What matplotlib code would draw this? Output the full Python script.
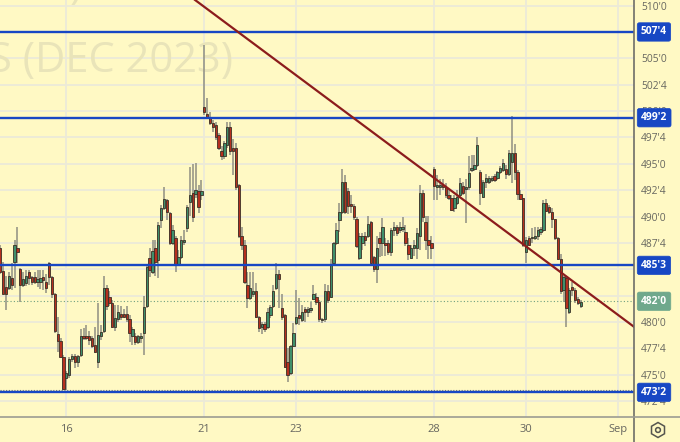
import matplotlib
matplotlib.use('Agg')
import matplotlib.pyplot as plt
from matplotlib.lines import Line2D
from matplotlib.patches import RegularPolygon, Circle

plt.rcParams['font.family'] = ['Open Sans', 'DejaVu Sans']

opens = [487.0, 484.8, 483.3, 483.2, 484.2, 485.7, 487.0, 485.0, 483.5, 483.7,
         484.7, 484.3, 484.3, 483.8, 483.8, 484.3, 483.8, 485.6, 484.3, 482.7,
         478.9, 478.2, 476.7, 474.7, 475.0, 476.5, 476.8, 476.2, 476.9, 478.7,
         478.7, 478.7, 478.5, 477.8, 476.2, 478.7, 479.2, 483.2, 482.4, 481.8,
         479.5, 480.3, 480.8, 480.8, 480.8, 480.3, 478.7, 478.7, 478.1, 478.5,
         479.0, 481.5, 486.1, 484.7, 487.0, 485.9, 489.7, 490.8, 491.6, 490.3,
         487.5, 488.0, 485.5, 486.2, 487.6, 488.9, 491.4, 492.2, 492.1, 492.4,
         492.0, 500.4, 499.7, 499.3, 498.9, 498.7, 497.7, 496.2, 495.7, 496.8,
         498.5, 496.5, 496.5, 493.0, 488.2, 487.3, 483.5, 482.3, 482.7, 482.9,
         480.5, 479.5, 479.8, 479.5, 480.7, 481.5, 483.2, 484.6, 481.3, 480.7,
         476.2, 475.2, 477.7, 479.9, 480.7, 480.2, 481.2, 481.0, 481.1, 482.2,
         482.4, 481.9, 480.2, 480.3, 482.9, 482.4, 485.6, 487.5, 489.7, 490.4,
         493.3, 492.4, 491.2, 491.0, 489.8, 486.1, 487.5, 488.2, 488.2, 489.5,
         486.2, 485.0, 488.0, 487.5, 487.5, 487.5, 486.6, 488.7, 489.0, 488.7,
         488.8, 488.5, 487.3, 486.1, 487.0, 487.0, 488.2, 492.2, 489.5, 487.8,
         487.5, 494.5, 492.8, 492.8, 493.0, 492.8, 492.0, 491.8, 490.8, 491.3,
         492.0, 492.9, 492.6, 492.8, 494.4, 494.5, 494.9, 494.2, 491.9, 493.3,
         493.3, 493.5, 493.8, 493.7, 494.2, 494.4, 494.5, 494.0, 495.2, 496.0,
         494.2, 492.1, 491.8, 486.6, 488.0, 488.0, 488.0, 488.2, 488.5, 488.7,
         491.3, 490.9, 490.4, 489.8, 488.0, 486.0, 483.0, 484.2, 481.0, 483.3,
         483.0, 482.2, 481.5]
highs = [487.3, 485.7, 484.4, 484.7, 485.6, 487.8, 489.0, 485.1, 484.7, 484.9,
         484.9, 484.4, 484.7, 484.9, 484.9, 484.9, 484.6, 485.7, 484.4, 482.8,
         480.5, 478.5, 476.9, 475.4, 476.7, 477.0, 477.0, 476.9, 479.3, 479.4,
         479.7, 479.2, 478.7, 479.5, 481.8, 479.7, 484.4, 483.5, 482.9, 482.1,
         481.6, 481.6, 481.5, 481.2, 481.5, 480.7, 479.5, 479.0, 478.8, 479.0,
         482.5, 485.4, 487.0, 487.8, 487.8, 489.5, 491.1, 492.8, 491.7, 490.4,
         489.2, 488.2, 486.8, 488.2, 488.7, 491.1, 494.7, 495.0, 495.1, 493.0,
         493.5, 506.3, 501.2, 499.9, 499.2, 499.0, 497.9, 496.7, 497.2, 499.0,
         499.0, 497.4, 497.0, 493.1, 489.0, 487.8, 484.7, 484.7, 484.7, 483.7,
         480.6, 480.0, 480.0, 481.3, 481.6, 483.5, 485.6, 484.9, 482.7, 480.8,
         477.5, 477.8, 479.9, 483.0, 482.3, 481.6, 481.4, 481.4, 481.9, 483.5,
         482.8, 482.1, 480.4, 483.6, 483.5, 486.0, 487.6, 489.4, 491.3, 494.5,
         493.9, 492.7, 492.0, 491.2, 490.0, 488.4, 488.4, 488.5, 490.1, 489.6,
         486.3, 488.2, 488.5, 489.9, 488.0, 487.8, 488.9, 489.5, 489.2, 489.5,
         490.0, 489.2, 488.0, 487.3, 487.8, 488.9, 493.0, 492.5, 490.1, 490.1,
         488.2, 494.7, 493.9, 493.6, 493.6, 493.2, 492.5, 492.0, 492.0, 492.5,
         493.7, 493.3, 493.6, 495.7, 495.8, 495.8, 497.5, 494.4, 493.5, 494.0,
         493.8, 493.8, 494.0, 494.3, 494.8, 495.5, 494.9, 496.3, 499.5, 496.9,
         494.4, 492.5, 491.8, 488.1, 488.2, 488.9, 489.0, 489.0, 489.0, 491.6,
         491.7, 491.1, 490.8, 489.8, 488.1, 486.5, 484.4, 484.4, 483.2, 483.8,
         483.2, 482.4, 482.1]
lows = [484.6, 482.7, 481.1, 483.0, 483.0, 483.2, 485.6, 481.9, 483.3, 483.4,
        483.5, 483.5, 483.6, 483.3, 483.1, 483.0, 482.8, 483.5, 482.3, 479.0,
        477.2, 476.6, 473.6, 473.6, 474.7, 476.2, 475.6, 475.7, 476.7, 478.3,
        478.3, 477.8, 477.5, 477.1, 475.6, 478.3, 479.0, 481.1, 481.5, 479.4,
        479.2, 480.0, 480.2, 480.4, 480.0, 478.1, 477.8, 477.8, 477.9, 478.0,
        476.9, 481.3, 484.3, 484.6, 484.4, 484.2, 488.9, 490.6, 489.7, 487.3,
        487.3, 484.7, 485.3, 486.0, 487.3, 488.5, 490.1, 489.5, 491.8, 490.3,
        491.6, 499.6, 499.3, 498.7, 498.0, 497.3, 496.3, 495.4, 495.5, 496.5,
        495.8, 493.9, 492.5, 488.0, 486.8, 483.6, 481.3, 482.1, 482.4, 480.4,
        479.1, 478.9, 479.1, 479.3, 480.4, 481.3, 483.0, 481.3, 480.2, 475.6,
        474.3, 475.0, 477.6, 479.7, 479.7, 480.0, 480.0, 480.5, 480.9, 482.1,
        481.6, 480.0, 479.9, 480.0, 481.8, 482.3, 485.4, 487.3, 488.5, 490.2,
        490.2, 490.2, 490.3, 489.7, 487.0, 485.9, 486.8, 487.2, 488.0, 485.4,
        484.7, 483.7, 486.2, 486.3, 486.3, 486.4, 486.3, 488.2, 488.2, 488.4,
        488.5, 487.2, 485.9, 486.0, 486.3, 486.0, 486.8, 489.5, 486.8, 486.0,
        486.0, 491.6, 491.6, 492.0, 492.5, 491.8, 491.6, 490.5, 490.4, 491.1,
        491.8, 492.0, 489.4, 492.5, 494.2, 494.3, 494.7, 491.1, 491.8, 492.7,
        493.1, 493.3, 493.3, 493.5, 494.0, 494.2, 493.6, 493.8, 493.2, 493.5,
        491.6, 491.6, 487.1, 485.6, 487.2, 487.5, 487.8, 487.8, 488.3, 488.5,
        490.4, 490.2, 488.9, 487.8, 485.9, 482.7, 481.9, 479.5, 480.8, 482.5,
        481.8, 481.6, 481.3]
closes = [484.7, 482.7, 482.7, 484.4, 483.5, 487.3, 486.6, 483.5, 484.1, 484.4,
          484.2, 483.8, 483.8, 484.1, 484.2, 484.0, 483.2, 484.3, 482.7, 479.2,
          478.2, 476.7, 473.7, 475.2, 476.5, 476.8, 476.2, 476.8, 478.7, 478.5,
          478.5, 478.3, 477.7, 477.2, 478.8, 479.1, 483.2, 481.5, 481.8, 479.5,
          480.4, 481.0, 480.5, 480.5, 480.3, 479.0, 479.3, 478.1, 478.7, 478.7,
          481.4, 485.2, 484.9, 486.7, 485.7, 489.2, 490.8, 491.7, 490.4, 487.5,
          488.7, 485.4, 486.2, 487.8, 487.8, 490.9, 492.0, 490.0, 492.5, 490.9,
          492.4, 499.9, 499.4, 498.9, 498.5, 497.5, 496.5, 495.7, 497.0, 498.5,
          496.2, 496.2, 492.8, 488.2, 487.3, 483.8, 482.3, 483.2, 482.9, 480.5,
          479.4, 479.8, 479.3, 481.0, 481.4, 482.9, 484.6, 484.1, 480.5, 475.7,
          475.0, 477.7, 479.0, 480.5, 480.4, 481.0, 481.0, 481.2, 481.3, 482.7,
          481.9, 480.3, 480.3, 482.9, 482.1, 485.5, 487.5, 488.7, 490.4, 493.3,
          490.4, 491.0, 491.0, 490.0, 487.2, 488.2, 488.2, 487.8, 489.3, 485.6,
          485.0, 487.0, 487.5, 489.0, 487.3, 486.6, 488.7, 489.0, 488.4, 489.0,
          489.0, 487.5, 486.5, 487.0, 487.3, 488.4, 492.2, 490.0, 487.8, 487.3,
          487.0, 492.9, 493.0, 493.0, 492.8, 492.0, 491.8, 490.6, 491.8, 491.9,
          493.2, 492.2, 492.8, 494.1, 494.6, 494.9, 496.8, 492.2, 493.3, 493.7,
          493.7, 493.7, 493.5, 494.2, 494.6, 495.1, 494.0, 496.0, 496.0, 494.2,
          492.1, 491.7, 487.3, 487.8, 487.3, 488.1, 488.2, 488.7, 488.8, 491.3,
          490.5, 490.4, 489.8, 488.0, 486.0, 482.9, 484.3, 481.3, 483.0, 483.0,
          482.1, 481.8, 481.9]

tick_pos = [23, 71, 103, 151, 183, 215]
tick_names = ['16', '21', '23', '28', '30', 'Sep']
price_ticks = [510, 507.5, 505, 502.5, 500, 497.5, 495, 492.5, 490, 487.5,
               485, 482.5, 480, 477.5, 475, 472.5]
price_names = ["510'0", "507'4", "505'0", "502'4", "500'0", "497'4", "495'0", "492'4",
               "490'0", "487'4", "485'0", "482'4", "480'0", "477'4", "475'0", "472'4"]
levels = [507.5, 499.37, 485.375, 473.34]
level_names = ["507'4", "499'2", "485'3", "473'2"]
last_price = 481.97
last_name = "482'0"
prev_dotted = 473.6
trend_x = [67.8, 220.6]
trend_y = [510.53, 479.53]

BG = '#fff9c4'
GRID = '#ecead8'
UP = '#3f8f6b'
DOWN = '#b5301f'
BLUE = '#1747c4'
AXIS = '#6e6e68'

fig = plt.figure(figsize=(6.8, 4.42), dpi=100, facecolor=BG)
ax = fig.add_axes([0, 25.3 / 442, 634.3 / 680, 416.7 / 442], facecolor=BG)

xs = list(range(len(opens)))
# wicks first, bodies on top
ax.vlines(xs, lows, highs, color='#8f8f82', lw=1.1, zorder=2)
for x, o, c in zip(xs, opens, closes):
    col = UP if c >= o else DOWN
    ax.bar(x, abs(c - o), bottom=min(o, c), width=0.8, color=col,
           edgecolor='#3b2f25', lw=0.6, zorder=3)

for lv in levels:
    ax.axhline(lv, color=BLUE, lw=1.7, zorder=4)
ax.axhline(last_price, color='#6f9f80', lw=0.8, ls=(0, (1, 2)), zorder=1.5)
ax.axhline(prev_dotted, color='#77776c', lw=0.8, ls=(0, (1, 1.5)), zorder=1.5)
ax.plot(trend_x, trend_y, color='#8c1c1c', lw=1.6, zorder=5)

ax.set_xlim(-0.06, 220.6)
ax.set_ylim(471.03, 510.53)
ax.set_xticks(tick_pos)
ax.set_xticklabels(tick_names)
ax.set_yticks(price_ticks)
ax.set_yticklabels(price_names)
ax.yaxis.tick_right()
ax.tick_params(axis='x', length=0, pad=5, labelsize=8, labelcolor='#66665f')
ax.tick_params(axis='y', length=0, pad=5, labelsize=7.4, labelcolor='#66665f')
ax.grid(True, color=GRID, lw=1.3, zorder=0)
ax.set_axisbelow(True)
for side in ['top', 'left', 'right', 'bottom']:
    ax.spines[side].set_visible(False)

# symbol watermark, cut off by the plot edges
ax.text(233 / 634.3, 1 - 72 / 416.7, 'S (DEC 2023)', transform=ax.transAxes, ha='right',
        va='baseline', fontsize=30, color='#e9e4b9', clip_on=True, zorder=1)
ax.text(82 / 634.3, 1 + 2 / 416.7, ')', transform=ax.transAxes, ha='right',
        va='baseline', fontsize=30, color='#e9e4b9', clip_on=True, zorder=1)

trans = ax.get_yaxis_transform()
box = 'round,pad=0.36,rounding_size=0.2'
for lv, name in zip(levels, level_names):
    ax.text(1.0105, lv, name, transform=trans, ha='left', va='center', fontsize=7.4,
            fontweight='bold', color='white', zorder=10, clip_on=False,
            bbox=dict(boxstyle=box, fc=BLUE, ec=BLUE, lw=0.5))
ax.text(1.0105, last_price, last_name, transform=trans, ha='left', va='center', fontsize=7.4,
        fontweight='bold', color='white', zorder=10, clip_on=False,
        bbox=dict(boxstyle=box, fc='#6fa88c', ec='#6fa88c', lw=0.5))

# frame of the price and time panels
fig.add_artist(Line2D([634.3 / 680, 634.3 / 680], [0, 1], color=AXIS, lw=1.2))
fig.add_artist(Line2D([0, 1], [25.3 / 442, 25.3 / 442], color='#9c9c92', lw=1.2))

# settings icon
fig.add_artist(RegularPolygon((658, 12), 6, radius=7.5, fill=False, ec='#55554f', lw=1.1,
                              transform=None))
fig.add_artist(Circle((658, 12), 2.4, fill=False, ec='#55554f', lw=1.1, transform=None))

fig.savefig('out.png', dpi=100, facecolor=BG)
